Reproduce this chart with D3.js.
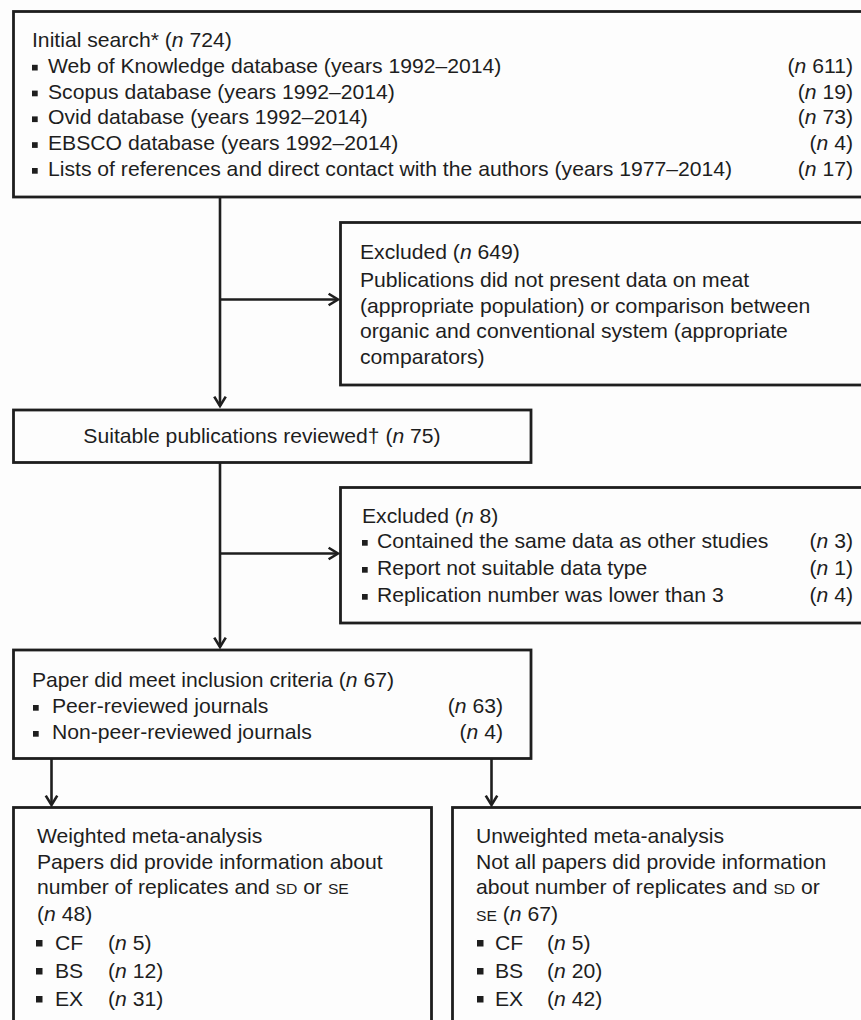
<!DOCTYPE html>
<html>
<head>
<meta charset="utf-8">
<script src="https://cdn.jsdelivr.net/npm/d3@7"></script>
<style>
  body { margin: 0; background: #fdfdfd; }
  text { font-family: "Liberation Sans", Arial, Helvetica, sans-serif; fill: #1e1e1e; white-space: pre; }
</style>
</head>
<body>
<div id="chart"></div>
<script>
// flow counts
const searchTotal = 724;
const searchLabels = [
    "Web of Knowledge database (years 1992–2014)",
    "Scopus database (years 1992–2014)",
    "Ovid database (years 1992–2014)",
    "EBSCO database (years 1992–2014)",
    "Lists of references and direct contact with the authors (years 1977–2014)"
];
const searchCounts = [611, 19, 73, 4, 17];

const excludedFirstTotal = 649;
const excludedFirstLines = [
    "Publications did not present data on meat",
    "(appropriate population) or comparison between",
    "organic and conventional system (appropriate",
    "comparators)"
];

const reviewedTotal = 75;

const excludedSecondTotal = 8;
const excludedSecondLabels = [
    "Contained the same data as other studies",
    "Report not suitable data type",
    "Replication number was lower than 3"
];
const excludedSecondCounts = [3, 1, 4];

const includedTotal = 67;
const includedLabels = ["Peer-reviewed journals", "Non-peer-reviewed journals"];
const includedCounts = [63, 4];

const groupLabels = ["CF", "BS", "EX"];
const weightedTotal = 48;
const weightedCounts = [5, 12, 31];
const unweightedTotal = 67;
const unweightedCounts = [5, 20, 42];

const W = 861, H = 1020;
const ink = "#1e1e1e";
const fs = 19.6;
const stretch = 1.08; // the original type is set a bit wide

const svg = d3.select("#chart")
    .append("svg")
    .attr("width", W)
    .attr("height", H);

svg.append("rect").attr("width", W).attr("height", H).attr("fill", "#fdfdfd");

// boxes: x0, y0, x1, y1 (right/bottom past the page get clipped like the original)
const boxes = {
    search:    [13.5, 11.5, 880, 197],
    excl1:     [340.5, 222.5, 880, 385],
    reviewed:  [13.5, 410, 531, 462.5],
    excl2:     [340.5, 487.5, 880, 623],
    included:  [13.5, 650, 531, 758.5],
    weighted:  [13.5, 807.5, 431.5, 1040],
    unweighted:[452.5, 807.5, 880, 1040]
};

Object.values(boxes).forEach(b => {
    svg.append("rect")
        .attr("x", b[0]).attr("y", b[1])
        .attr("width", b[2] - b[0]).attr("height", b[3] - b[1])
        .attr("fill", "none")
        .attr("stroke", ink)
        .attr("stroke-width", 2.8);
});

function arrow(x1, y1, x2, y2) {
    const g = svg.append("g")
        .attr("stroke", ink).attr("stroke-width", 2.6).attr("fill", "none");
    g.append("line").attr("x1", x1).attr("y1", y1).attr("x2", x2).attr("y2", y2);
    const a = Math.atan2(y2 - y1, x2 - x1), L = 11, s = 0.55;
    const p = d3.path();
    p.moveTo(x2 - L * Math.cos(a - s), y2 - L * Math.sin(a - s));
    p.lineTo(x2, y2);
    p.lineTo(x2 - L * Math.cos(a + s), y2 - L * Math.sin(a + s));
    g.append("path").attr("d", p.toString()).attr("stroke-linejoin", "miter");
}

// segments: [text, style] with style "i" italic or "sc" small caps
function label(x, y, segs, anchor) {
    const t = svg.append("text")
        .attr("transform", "translate(" + x + "," + y + ") scale(" + stretch + ",1)")
        .attr("font-size", fs)
        .attr("text-anchor", anchor || "start");
    segs.forEach(s => {
        const sp = t.append("tspan").text(s[0]);
        if (s[1] === "i") sp.attr("font-style", "italic");
        if (s[1] === "sc") sp.attr("font-size", fs * 0.74);
    });
    return t;
}

const nSeg = v => [["("], ["n", "i"], [" " + v + ")"]];

function bullet(x, y, size, lift) {
    svg.append("rect")
        .attr("x", x).attr("y", y - size - lift)
        .attr("width", size).attr("height", size)
        .attr("fill", ink);
}

// --- box 1: initial search
const rowA = d3.scaleLinear().domain([0, 1]).range([47, 72.8]);
label(32, rowA(0), [["Initial search* "]].concat(nSeg(searchTotal)));
searchLabels.forEach((d, i) => {
    bullet(32, rowA(i + 1), 5.7, 2.3);
    label(48, rowA(i + 1), [[d]]);
    label(853, rowA(i + 1), nSeg(searchCounts[i]), "end");
});

// --- box 2: first exclusion
const rowB = d3.scaleLinear().domain([1, 2]).range([287, 312.7]);
label(360, 259, [["Excluded "]].concat(nSeg(excludedFirstTotal)));
excludedFirstLines.forEach((d, i) => label(360, rowB(i + 1), [[d]]));

// --- box 3: reviewed
label(262, 443, [["Suitable publications reviewed† "]].concat(nSeg(reviewedTotal)), "middle");

// --- box 4: second exclusion
const rowC = d3.scaleLinear().domain([1, 2]).range([548, 575]);
label(362, 523, [["Excluded "]].concat(nSeg(excludedSecondTotal)));
excludedSecondLabels.forEach((d, i) => {
    bullet(362, rowC(i + 1), 5.7, 2.3);
    label(377, rowC(i + 1), [[d]]);
    label(853, rowC(i + 1), nSeg(excludedSecondCounts[i]), "end");
});

// --- box 5: included
const rowD = d3.scaleLinear().domain([0, 1]).range([687, 713]);
label(32, rowD(0), [["Paper did meet inclusion criteria "]].concat(nSeg(includedTotal)));
includedLabels.forEach((d, i) => {
    bullet(33, rowD(i + 1), 5.7, 2.3);
    label(52, rowD(i + 1), [[d]]);
    label(503, rowD(i + 1), nSeg(includedCounts[i]), "end");
});

// --- boxes 6/7: meta-analyses
const rowE = d3.scaleLinear().domain([0, 1]).range([843, 868.5]);
const rowF = d3.scaleLinear().domain([0, 1]).range([949.5, 977.5]);

label(37, rowE(0), [["Weighted meta-analysis"]]);
label(37, rowE(1), [["Papers did provide information about"]]);
label(37, rowE(2), [["number of replicates and "], ["SD", "sc"], [" or "], ["SE", "sc"]]);
label(37, rowE(3) + 1, nSeg(weightedTotal));
groupLabels.forEach((d, i) => {
    bullet(36, rowF(i), 6.5, 3);
    label(55, rowF(i), [[d]]);
    label(108, rowF(i), nSeg(weightedCounts[i]));
});

label(476, rowE(0), [["Unweighted meta-analysis"]]);
label(476, rowE(1), [["Not all papers did provide information"]]);
label(476, rowE(2), [["about number of replicates and "], ["SD", "sc"], [" or"]]);
label(476, rowE(3) + 1, [["SE", "sc"], [" "]].concat(nSeg(unweightedTotal)));
groupLabels.forEach((d, i) => {
    bullet(477, rowF(i), 6.5, 3);
    label(495, rowF(i), [[d]]);
    label(547, rowF(i), nSeg(unweightedCounts[i]));
});

// --- connectors
arrow(220, 197, 220, 406);
arrow(220, 299.5, 338, 299.5);
arrow(220, 462.5, 220, 647);
arrow(220, 553.5, 338, 553.5);
arrow(51.5, 758.5, 51.5, 805);
arrow(491.5, 758.5, 491.5, 805);
</script>
</body>
</html>
